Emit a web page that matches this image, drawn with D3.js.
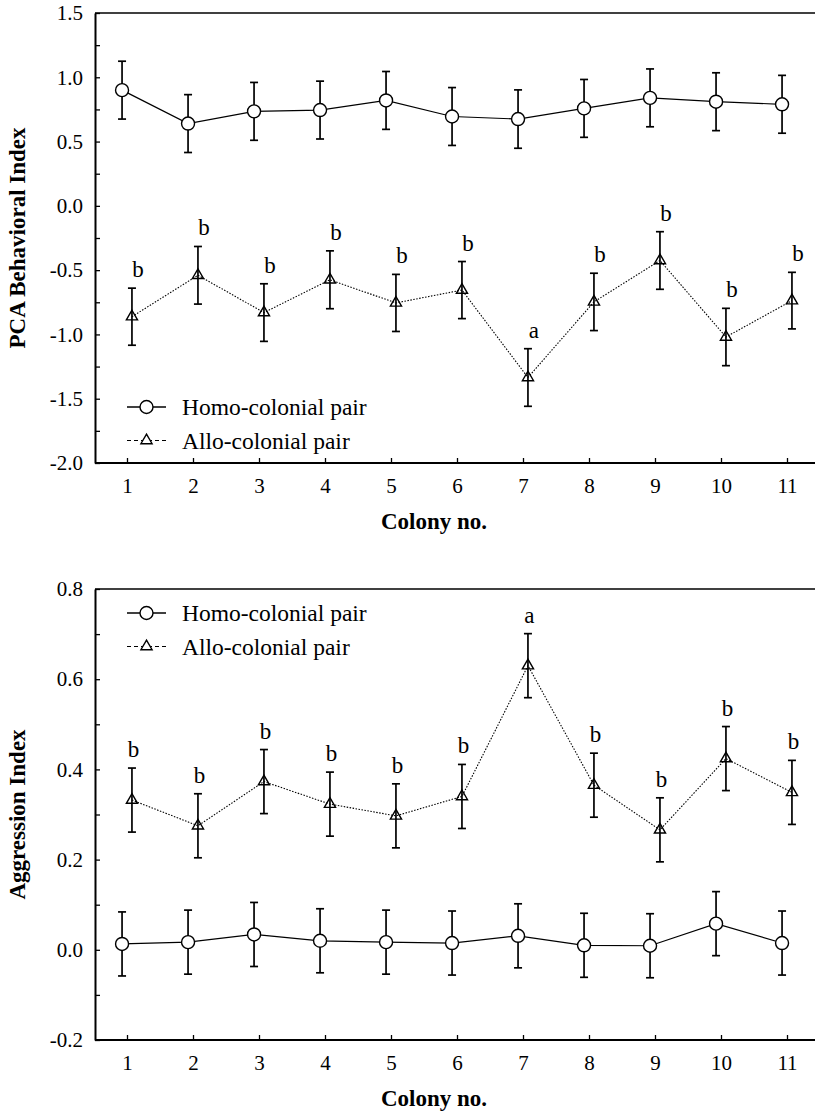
<!DOCTYPE html>
<html>
<head>
<meta charset="utf-8">
<script src="https://cdn.jsdelivr.net/npm/d3@7"></script>
<style>
  body { margin: 0; background: #fff; }
  svg { display: block; }
</style>
</head>
<body>
<div id="chart"></div>
<script>
// colonies on the x axis
var colonies = [1, 2, 3, 4, 5, 6, 7, 8, 9, 10, 11];

// top panel: PCA behavioral index
var pcaHomo = [0.90, 0.64, 0.735, 0.745, 0.82, 0.695, 0.675, 0.758, 0.84, 0.81, 0.79];
var pcaHomoErr = [0.225, 0.225, 0.225, 0.225, 0.225, 0.225, 0.227, 0.225, 0.225, 0.225, 0.225];
var pcaAllo = [-0.862, -0.54, -0.83, -0.575, -0.755, -0.655, -1.335, -0.747, -0.425, -1.02, -0.737];
var pcaAlloErr = [0.222, 0.224, 0.224, 0.225, 0.222, 0.222, 0.224, 0.223, 0.224, 0.223, 0.22];
var pcaLetters = ["b", "b", "b", "b", "b", "b", "a", "b", "b", "b", "b"];
var pcaTicks = [1.5, 1.0, 0.5, 0.0, -0.5, -1.0, -1.5, -2.0];
var pcaTickLabels = ["1.5", "1.0", "0.5", "0.0", "-0.5", "-1.0", "-1.5", "-2.0"];

// bottom panel: aggression index
var aggHomo = [0.013, 0.017, 0.034, 0.02, 0.017, 0.015, 0.031, 0.01, 0.009, 0.058, 0.015];
var aggHomoErr = [0.071, 0.071, 0.071, 0.071, 0.071, 0.071, 0.071, 0.071, 0.071, 0.071, 0.071];
var aggAllo = [0.332, 0.275, 0.373, 0.323, 0.297, 0.34, 0.63, 0.365, 0.266, 0.424, 0.349];
var aggAlloErr = [0.071, 0.071, 0.071, 0.071, 0.071, 0.071, 0.071, 0.071, 0.071, 0.071, 0.071];
var aggLetters = ["b", "b", "b", "b", "b", "b", "a", "b", "b", "b", "b"];
var aggTicks = [0.8, 0.6, 0.4, 0.2, 0.0, -0.2];
var aggTickLabels = ["0.8", "0.6", "0.4", "0.2", "0.0", "-0.2"];

var seriesNames = ["Homo-colonial pair", "Allo-colonial pair"];

var width = 815;
var height = 1116;
var serif = "'Liberation Serif', 'Times New Roman', serif";

var svg = d3.select("#chart")
    .append("svg")
    .attr("width", width)
    .attr("height", height);

// shared x scale
var x = d3.scaleLinear()
    .domain([0.5, 11.5])
    .range([94, 820]);

var triangle = d3.symbol().type(d3.symbolTriangle).size(54);

function drawPanel(p) {
    var y = d3.scaleLinear().domain(p.domain).range([p.bottom, p.top]);
    var g = svg.append("g");

    // top border line
    g.append("line")
        .attr("x1", 95).attr("x2", width)
        .attr("y1", p.top).attr("y2", p.top)
        .attr("stroke", "#000").attr("stroke-width", 1.3);

    // minor y ticks
    g.append("g")
        .attr("transform", "translate(95,0)")
        .call(d3.axisLeft(y).tickValues(p.minor).tickSize(-5).tickSizeOuter(0).tickFormat(""))
        .call(function(s) { s.select(".domain").remove(); })
        .selectAll("line").attr("stroke-width", 1.3);

    // y axis
    var ya = g.append("g")
        .attr("transform", "translate(95,0)")
        .call(d3.axisLeft(y).tickValues(p.ticks).tickSize(-5).tickSizeOuter(0).tickPadding(12)
            .tickFormat(function(d, i) { return p.tickLabels[i]; }));
    ya.select(".domain").attr("stroke-width", 2);
    ya.selectAll("line").attr("stroke-width", 1.3);
    ya.selectAll("text").attr("font-family", serif).attr("font-size", 21).attr("fill", "#000");

    // x axis
    var xa = g.append("g")
        .attr("transform", "translate(0," + p.bottom + ")")
        .call(d3.axisBottom(x).tickValues(colonies).tickSize(-5).tickSizeOuter(0).tickPadding(15));
    xa.select(".domain").attr("d", "M95,0H" + width).attr("stroke-width", 2);
    xa.selectAll("line").attr("stroke-width", 1.3);
    xa.selectAll("text").attr("font-family", serif).attr("font-size", 21).attr("fill", "#000");

    // axis titles
    g.append("text")
        .attr("transform", "translate(25," + ((p.top + p.bottom) / 2) + ") rotate(-90)")
        .attr("text-anchor", "middle")
        .attr("font-family", serif).attr("font-weight", "bold").attr("font-size", 23)
        .text(p.yTitle);
    g.append("text")
        .attr("x", 434).attr("y", p.bottom + 66)
        .attr("text-anchor", "middle")
        .attr("font-family", serif).attr("font-weight", "bold").attr("font-size", 23)
        .text("Colony no.");

    var homoX = function(d, i) { return x(colonies[i] - 0.075); };
    var alloX = function(d, i) { return x(colonies[i] + 0.075); };

    // lines
    g.append("path")
        .datum(p.homo)
        .attr("fill", "none").attr("stroke", "#000").attr("stroke-width", 1.2)
        .attr("d", d3.line().x(homoX).y(function(d) { return y(d); }));
    g.append("path")
        .datum(p.allo)
        .attr("fill", "none").attr("stroke", "#000").attr("stroke-width", 1.1)
        .attr("stroke-dasharray", "1.5,1.5")
        .attr("d", d3.line().x(alloX).y(function(d) { return y(d); }));

    // error bars
    function errBars(vals, errs, fx) {
        var eb = g.append("g").selectAll("g").data(vals).enter().append("g");
        eb.append("line")
            .attr("x1", fx).attr("x2", fx)
            .attr("y1", function(d, i) { return y(d + errs[i]); })
            .attr("y2", function(d, i) { return y(d - errs[i]); })
            .attr("stroke", "#000").attr("stroke-width", 1.7);
        [1, -1].forEach(function(sgn) {
            eb.append("line")
                .attr("x1", function(d, i) { return fx(d, i) - 4; })
                .attr("x2", function(d, i) { return fx(d, i) + 4; })
                .attr("y1", function(d, i) { return y(d + sgn * errs[i]); })
                .attr("y2", function(d, i) { return y(d + sgn * errs[i]); })
                .attr("stroke", "#000").attr("stroke-width", 1.7);
        });
    }
    errBars(p.homo, p.homoErr, homoX);
    errBars(p.allo, p.alloErr, alloX);

    // markers
    g.append("g").selectAll("circle").data(p.homo).enter().append("circle")
        .attr("cx", homoX).attr("cy", function(d) { return y(d); })
        .attr("r", 6.5)
        .attr("fill", "#fff").attr("stroke", "#000").attr("stroke-width", 1.4);
    g.append("g").selectAll("path").data(p.allo).enter().append("path")
        .attr("d", triangle)
        .attr("transform", function(d, i) { return "translate(" + alloX(d, i) + "," + y(d) + ")"; })
        .attr("fill", "none").attr("stroke", "#000").attr("stroke-width", 1.4);

    // significance letters
    g.append("g").selectAll("text").data(p.allo).enter().append("text")
        .attr("x", function(d, i) { return alloX(d, i) + p.letterDx; })
        .attr("y", function(d, i) { return y(d + p.alloErr[i]) - 11; })
        .attr("text-anchor", "middle")
        .attr("font-family", serif).attr("font-size", 23)
        .text(function(d, i) { return p.letters[i]; });

    // legend
    var leg = g.append("g");
    var ly = [p.legendY, p.legendY + 33.5];
    leg.append("line")
        .attr("x1", 127).attr("x2", 166).attr("y1", ly[0]).attr("y2", ly[0])
        .attr("stroke", "#000").attr("stroke-width", 1.3);
    leg.append("circle")
        .attr("cx", 146.5).attr("cy", ly[0]).attr("r", 6.5)
        .attr("fill", "#fff").attr("stroke", "#000").attr("stroke-width", 1.4);
    leg.append("line")
        .attr("x1", 127).attr("x2", 166).attr("y1", ly[1]).attr("y2", ly[1])
        .attr("stroke", "#000").attr("stroke-width", 1.1).attr("stroke-dasharray", "4,3");
    leg.append("path")
        .attr("d", triangle)
        .attr("transform", "translate(146.5," + ly[1] + ")")
        .attr("fill", "#fff").attr("stroke", "#000").attr("stroke-width", 1.4);
    leg.selectAll("text.leg").data(seriesNames).enter().append("text")
        .attr("class", "leg")
        .attr("x", 182)
        .attr("y", function(d, i) { return ly[i] + 8; })
        .attr("font-family", serif).attr("font-size", 23.5)
        .text(function(d) { return d; });
}

drawPanel({
    top: 13, bottom: 463,
    domain: [-2.0, 1.5],
    ticks: pcaTicks, tickLabels: pcaTickLabels,
    minor: d3.range(-1.75, 1.5, 0.5),
    yTitle: "PCA Behavioral Index",
    homo: pcaHomo, homoErr: pcaHomoErr,
    allo: pcaAllo, alloErr: pcaAlloErr,
    letters: pcaLetters, letterDx: 6,
    legendY: 407
});

drawPanel({
    top: 589, bottom: 1040,
    domain: [-0.2, 0.8],
    ticks: aggTicks, tickLabels: aggTickLabels,
    minor: d3.range(-0.1, 0.8, 0.2),
    yTitle: "Aggression Index",
    homo: aggHomo, homoErr: aggHomoErr,
    allo: aggAllo, alloErr: aggAlloErr,
    letters: aggLetters, letterDx: 1.5,
    legendY: 613
});
</script>
</body>
</html>
